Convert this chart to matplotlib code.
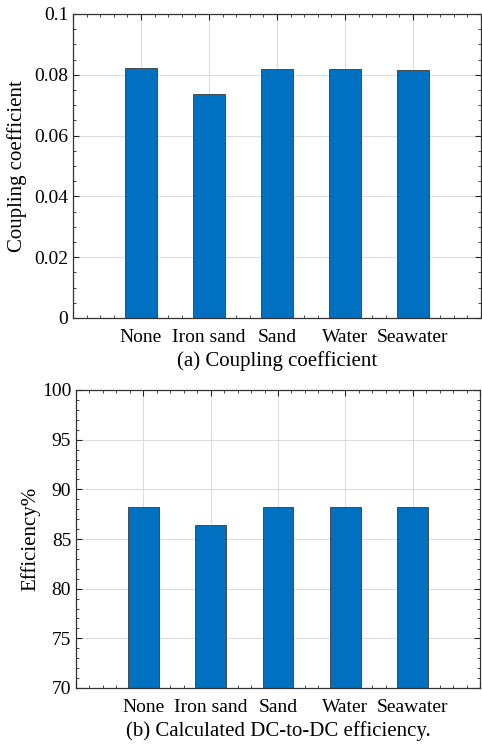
import matplotlib
matplotlib.use("Agg")
import matplotlib.pyplot as plt
from matplotlib.ticker import MultipleLocator, FixedLocator, FuncFormatter

plt.rcParams['font.family'] = ['Liberation Serif', 'DejaVu Serif']

# DATA
categories = ['None', 'Iron sand', 'Sand', 'Water', 'Seawater']
coupling = [0.0821, 0.0736, 0.0818, 0.0820, 0.0817]
efficiency = [88.27, 86.36, 88.26, 88.20, 88.27]

bar_color = '#0070c0'
positions = list(range(1, len(categories) + 1))


def style_axes(ax, ymin, ymax, ymajor, yminor, ylabel, caption, caption_y):
    ax.set_xlim(0, 6)
    ax.set_ylim(ymin, ymax)
    ax.xaxis.set_major_locator(FixedLocator(range(0, 7)))
    ax.set_xticklabels([''] + categories + [''])
    ax.xaxis.set_minor_locator(MultipleLocator(0.2))
    ax.yaxis.set_major_locator(MultipleLocator(ymajor))
    ax.yaxis.set_minor_locator(MultipleLocator(yminor))
    ax.yaxis.set_major_formatter(FuncFormatter(lambda v, p: f'{round(v, 4):g}'))
    ax.tick_params(which='both', direction='in', top=True, right=True,
                   color='#262626', labelsize=14)
    ax.tick_params(which='major', length=4, width=0.8)
    ax.tick_params(which='minor', length=2.2, width=0.6)
    ax.tick_params(axis='x', pad=8)
    ax.grid(True, which='major', color='#dcdcdc', linewidth=0.8)
    ax.set_axisbelow(True)
    for s in ax.spines.values():
        s.set_color('#333333')
        s.set_linewidth(0.9)
    ax.set_ylabel(ylabel, fontsize=15, va='center')
    ax.text(0.5, caption_y, caption, transform=ax.transAxes, ha='center',
            va='center', fontsize=15)


fig = plt.figure(figsize=(4.82, 7.46), dpi=100)

# (a) coupling coefficient
ax1 = fig.add_axes([73 / 482, 428 / 746, 408 / 482, 304 / 746])
ax1.bar(positions, coupling, width=0.46, color=bar_color,
        edgecolor='#3a3a3a', linewidth=0.6)
style_axes(ax1, 0, 0.1, 0.02, 0.005, 'Coupling coefficient',
           '(a) Coupling coefficient', -0.142)
ax1.yaxis.set_label_coords(-0.137, 0.5)

# (b) DC-to-DC efficiency
ax2 = fig.add_axes([76 / 482, 58 / 746, 404 / 482, 298 / 746])
ax2.bar(positions, efficiency, width=0.46, color=bar_color,
        edgecolor='#3a3a3a', linewidth=0.6)
style_axes(ax2, 70, 100, 5, 1, 'Efficiency%',
           '(b) Calculated DC-to-DC efficiency.', -0.145)
ax2.yaxis.set_label_coords(-0.114, 0.5)

fig.savefig('out.png', dpi=100)
